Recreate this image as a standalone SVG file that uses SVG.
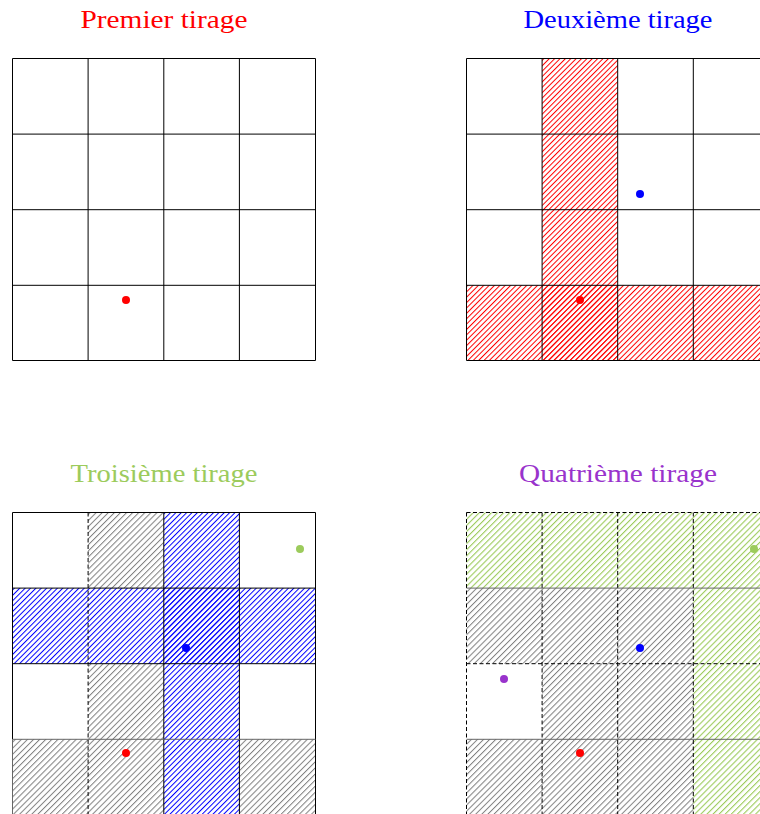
<svg xmlns="http://www.w3.org/2000/svg" width="760" height="814" viewBox="0 0 760 814">
<defs>
<pattern id="hr" patternUnits="userSpaceOnUse" width="3.8" height="10" patternTransform="rotate(45)"><rect x="0" y="0" width="1" height="10" fill="#ff0000"/></pattern>
<pattern id="hb" patternUnits="userSpaceOnUse" width="3.8" height="10" patternTransform="rotate(45)"><rect x="0" y="0" width="1" height="10" fill="#0000ff"/></pattern>
<pattern id="hg" patternUnits="userSpaceOnUse" width="4.3" height="10" patternTransform="rotate(45)"><rect x="0" y="0" width="1" height="10" fill="#808080"/></pattern>
<pattern id="hy" patternUnits="userSpaceOnUse" width="4.3" height="10" patternTransform="rotate(45)"><rect x="0" y="0" width="1.1" height="10" fill="#9ccb5c"/></pattern>
</defs>
<style>
.t{font-family:"Liberation Serif","DejaVu Serif",serif;font-size:26px;text-anchor:middle}
.g{fill:none;stroke:#000;stroke-width:1}
.d{fill:none;stroke:#000;stroke-width:1;stroke-dasharray:4 2.5}
.s{fill:none;stroke:#666;stroke-width:1}
</style>

<g id="premier">
<text class="t" x="164" y="28" fill="#ff0000" textLength="167" lengthAdjust="spacingAndGlyphs">Premier tirage</text>
<path class="g" d="M12.5,58.5H315.5V360.5H12.5Z M88.1,58.5V360.5 M163.8,58.5V360.5 M239.4,58.5V360.5 M12.5,134.1H315.5 M12.5,209.7H315.5 M12.5,285.3H315.5"/>
<circle cx="126" cy="300" r="4" fill="#ff0000"/>
</g>

<g id="deuxieme">
<text class="t" x="618" y="28" fill="#0000ff" textLength="189" lengthAdjust="spacingAndGlyphs">Deuxième tirage</text>
<rect x="542.1" y="58.5" width="75.6" height="302" fill="url(#hr)"/>
<rect x="466.5" y="285.3" width="303" height="75.2" fill="url(#hr)"/>
<path class="g" d="M466.5,58.5H769.5V360.5H466.5Z M542.1,58.5V360.5 M617.7,58.5V360.5 M693.3,58.5V360.5 M466.5,134.1H769.5 M466.5,209.7H769.5 M466.5,285.3H769.5"/>
<circle cx="640" cy="194" r="4" fill="#0000ff"/>
<circle cx="580" cy="300" r="4" fill="#ff0000"/>
</g>

<g id="troisieme">
<text class="t" x="164" y="482" fill="#9ccb5c" textLength="187" lengthAdjust="spacingAndGlyphs">Troisième tirage</text>
<rect x="88.1" y="512.5" width="75.7" height="75.6" fill="url(#hg)"/>
<rect x="88.1" y="663.7" width="75.7" height="75.6" fill="url(#hg)"/>
<rect x="12.5" y="739.3" width="151.3" height="75" fill="url(#hg)"/>
<rect x="239.4" y="739.3" width="76.1" height="75" fill="url(#hg)"/>
<rect x="163.8" y="512.5" width="75.6" height="302" fill="url(#hb)"/>
<rect x="12.5" y="588.1" width="303" height="75.6" fill="url(#hb)"/>
<path class="g" d="M12.5,512.5H315.5V814 M12.5,512.5V739.3 M163.8,512.5V814 M239.4,512.5V814 M12.5,588.1H315.5 M12.5,663.7H315.5"/>
<path class="s" d="M12.5,739.3V814 M12.5,739.3H315.5"/>
<path class="d" d="M88.1,512.5V814"/>
<circle cx="300" cy="549" r="4" fill="#9ccb5c"/>
<circle cx="186" cy="648" r="4" fill="#0000ff"/>
<circle cx="126" cy="753" r="4" fill="#ff0000"/>
</g>

<g id="quatrieme">
<text class="t" x="618" y="482" fill="#9933cc" textLength="198" lengthAdjust="spacingAndGlyphs">Quatrième tirage</text>
<rect x="466.5" y="588.1" width="226.8" height="75.6" fill="url(#hg)"/>
<rect x="542.1" y="663.7" width="151.2" height="75.6" fill="url(#hg)"/>
<rect x="466.5" y="739.3" width="226.8" height="75" fill="url(#hg)"/>
<rect x="466.5" y="512.5" width="303" height="75.6" fill="url(#hy)"/>
<rect x="693.3" y="588.1" width="76" height="226" fill="url(#hy)"/>
<path class="d" d="M466.5,512.5H769.5 M466.5,512.5V814 M542.1,512.5V814 M617.7,512.5V814 M693.3,512.5V814 M466.5,663.7H769.5"/>
<path class="s" d="M466.5,588.1H769.5 M466.5,739.3H769.5"/>
<circle cx="754" cy="549" r="4" fill="#9ccb5c"/>
<circle cx="640" cy="648" r="4" fill="#0000ff"/>
<circle cx="504" cy="679" r="4" fill="#9933cc"/>
<circle cx="580" cy="753" r="4" fill="#ff0000"/>
</g>
</svg>
